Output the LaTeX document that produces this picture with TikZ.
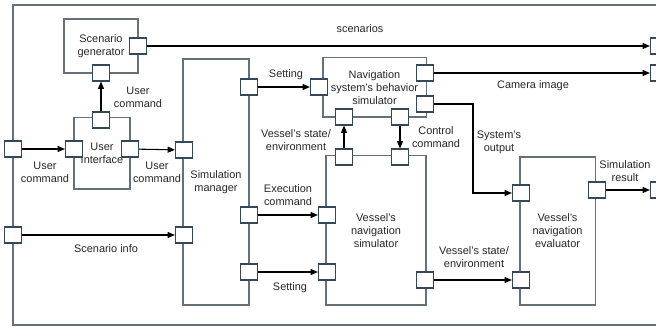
\documentclass[tikz,border=0pt]{standalone}
\usepackage{fontspec}
\setmainfont{Liberation Sans}
\usetikzlibrary{arrows.meta}
\definecolor{boxcol}{RGB}{100,112,122}
\definecolor{portcol}{RGB}{52,72,90}
\definecolor{txtcol}{RGB}{38,38,38}
\tikzset{
	block/.style={draw=boxcol, line width=0.8pt, align=center, inner sep=0pt, text=txtcol},
	port/.style={draw=portcol, line width=0.8pt, fill=white, minimum width=12.8pt, minimum height=12pt, inner sep=0pt},
	lbl/.style={align=center, text=txtcol, inner sep=0pt},
	arr/.style={line width=0.8pt, -{Triangle[length=5.5pt,width=4.5pt]}}
}
\begin{document}
\begin{tikzpicture}[x=0.75pt, y=-0.75pt, font=\fontsize{8.2}{9.8}\selectfont]
	\clip (0, 0) rectangle (656, 327);
	\draw[boxcol, line width=0.8pt] (662, 5) -- (13, 5) -- (13, 325) -- (662, 325);
	% blocks
	\node[block, minimum width=55.5pt, minimum height=40.5pt] (scen) at (101, 46) {Scenario\\generator};
	\node[block, minimum width=42pt, minimum height=53.3pt] (ui) at (102, 153.5) {User\\Interface};
	\node[block, minimum width=49.5pt, minimum height=184.5pt] (sim) at (216, 182) {Simulation\\manager};
	\node[block, minimum width=77.3pt, minimum height=44.3pt] (nbs) at (374.5, 87.5) {Navigation\\system's behavior\\simulator};
	\node[block, minimum width=75pt, minimum height=111.8pt] (vns) at (376, 230.5) {Vessel's\\navigation\\simulator};
	\node[block, minimum width=56.3pt, minimum height=111pt] (vne) at (557.5, 231) {Vessel's\\navigation\\evaluator};
	% ports
	\foreach \n/\x/\y in {inUC/13/149, inSI/13/235, scR/138/46, scB/101/73,
		uiT/101/120, uiL/74/149, uiR/130/149,
		smL/184/150, smS/184/235, smA/249/87, smB/249/215, smC/249/272,
		nbL/319/87, nbR/425/73, nbO/425/104, nbD/344/117, nbE/400/117,
		vnU/344/157, vnV/400/157, vnA/327/215, vnB/327/272, vnR/425/280,
		veA/521/193, veB/521/280, veR/597/190,
		outA/659/46, outB/659/73, outC/659/190}{
		\node[port] (\n) at (\x, \y) {};
	}
	\coordinate (bend) at (473, 193);
	% connectors
	\draw[arr] (inUC) -- (uiL);
	\draw[arr] (uiR) -- (smL);
	\draw[arr] (uiT) -- (scB);
	\draw[arr] (inSI) -- (smS);
	\draw[arr] (scR) -- (outA);
	\draw[arr] (nbR) -- (outB);
	\draw[arr] (smA) -- (nbL);
	\draw[arr] (smB) -- (vnA);
	\draw[arr] (smC) -- (vnB);
	\draw[arr] (vnU) -- (nbD);
	\draw[arr] (nbE) -- (vnV);
	\draw[arr] (nbO) -| (bend) -- (veA);
	\draw[arr] (vnR) -- (veB);
	\draw[arr] (veR) -- (outC);
	% labels
	\node[lbl] (lScen) at (360, 29) {scenarios};
	\node[lbl] (lCam) at (533, 86) {Camera image};
	\node[lbl] (lUC1) at (138, 97.5) {User\\command};
	\node[lbl] (lUC2) at (45, 172) {User\\command};
	\node[lbl] (lUC3) at (157, 172) {User\\command};
	\node[lbl] (lSet1) at (286, 75) {Setting};
	\node[lbl] (lVS1) at (296, 140) {Vessel's state/\\environment};
	\node[lbl] (lCtl) at (436, 137) {Control\\command};
	\node[lbl] (lOut) at (499, 142) {System's\\output};
	\node[lbl] (lExe) at (288, 195) {Execution\\command};
	\node[lbl] (lSI) at (106, 249) {Scenario info};
	\node[lbl] (lSet2) at (290, 288) {Setting};
	\node[lbl] (lVS2) at (474, 257.5) {Vessel's state/\\environment};
	\node[lbl] (lRes) at (625, 171.5) {Simulation\\result};
\end{tikzpicture}
\end{document}
